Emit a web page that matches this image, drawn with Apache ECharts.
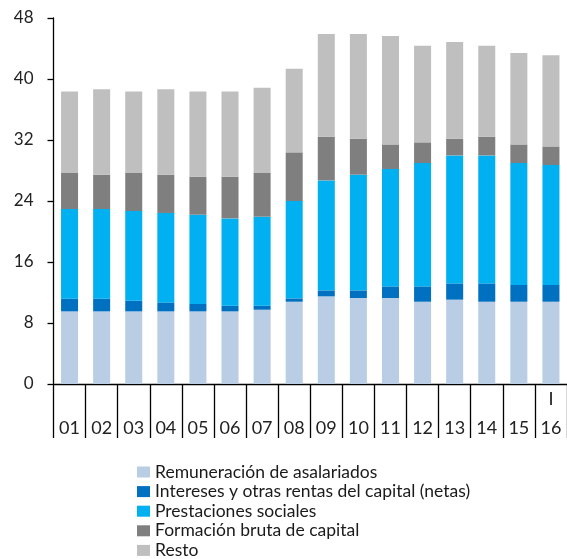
<!DOCTYPE html>
<html>
<head>
<meta charset="utf-8">
<script src="https://cdn.jsdelivr.net/npm/echarts@6/dist/echarts.min.js"></script>
<style>html,body{margin:0;padding:0;background:#fff}#c{width:567px;height:559px}</style>
</head>
<body>
<div id="c"></div>
<script>
var categories = ['01','02','03','04','05','06','07','08','09','10','11','12','13','14','15','16'];
var remuneracion = [9.52,9.52,9.52,9.52,9.52,9.52,9.74,10.79,11.49,11.28,11.28,10.79,11.06,10.79,10.79,10.79];
var intereses = [1.67,1.67,1.40,1.18,0.97,0.75,0.53,0.44,0.79,1.00,1.52,2.01,2.13,2.40,2.21,2.21];
var prestaciones = [11.76,11.76,11.77,11.73,11.71,11.45,11.67,12.77,14.42,15.17,15.40,16.18,16.79,16.79,15.98,15.72];
var formacion = [4.72,4.50,4.98,5.02,4.99,5.47,5.73,6.38,5.73,4.72,3.22,2.71,2.19,2.45,2.44,2.44];
var resto = [10.70,11.19,10.70,11.19,11.18,11.18,11.19,10.97,13.47,13.73,14.22,12.68,12.68,11.94,11.99,11.94];
var seriesNames = ['Remuneración de asalariados','Intereses y otras rentas del capital (netas)','Prestaciones sociales','Formación bruta de capital','Resto'];
var yTicks = [0, 8, 16, 24, 32, 40, 48];
var quarterMark = 'I';

var colors = ['#B9CDE5','#0070C0','#00B0F0','#7F7F7F','#BFBFBF'];
var dataSets = [remuneracion, intereses, prestaciones, formacion, resto];
var font = 'Lato, "Open Sans", sans-serif';

var chart = echarts.init(document.getElementById('c'), null, {renderer: 'canvas'});
chart.setOption({
  animation: false,
  color: colors,
  grid: {left: 53.5, right: -1, top: 18, bottom: 175, containLabel: false},
  legend: {
    orient: 'vertical',
    left: 137, top: 463, height: 140,
    itemWidth: 13, itemHeight: 11, itemGap: 1.6,
    padding: 0,
    icon: 'rect',
    textStyle: {fontFamily: font, fontSize: 17.5, color: '#1a1a1a', lineHeight: 16},
    data: seriesNames
  },
  xAxis: {
    type: 'category',
    data: categories,
    axisLine: {lineStyle: {color: '#000', width: 1.3}},
    axisTick: {show: true, length: 54, interval: 0, lineStyle: {color: '#000', width: 1.3}},
    axisLabel: {
      interval: 0, margin: 7.6, fontFamily: font, fontSize: 18, color: '#222', lineHeight: 14.75,
      formatter: function (v, i) { return (i === categories.length - 1 ? quarterMark : '') + '\n\n' + v; }
    }
  },
  yAxis: {
    type: 'value',
    min: yTicks[0], max: yTicks[yTicks.length - 1], interval: yTicks[1] - yTicks[0],
    splitLine: {show: false},
    axisLine: {show: true, lineStyle: {color: '#000', width: 1.3}},
    axisTick: {show: true, length: 6, lineStyle: {color: '#000', width: 1.3}},
    axisLabel: {margin: 20, fontFamily: font, fontSize: 17, color: '#222'}
  },
  series: seriesNames.map(function (n, k) {
    return {
      name: n, type: 'bar', stack: 'total', barWidth: '53%',
      data: dataSets[k],
      itemStyle: {color: colors[k]}
    };
  })
});
</script>
</body>
</html>
